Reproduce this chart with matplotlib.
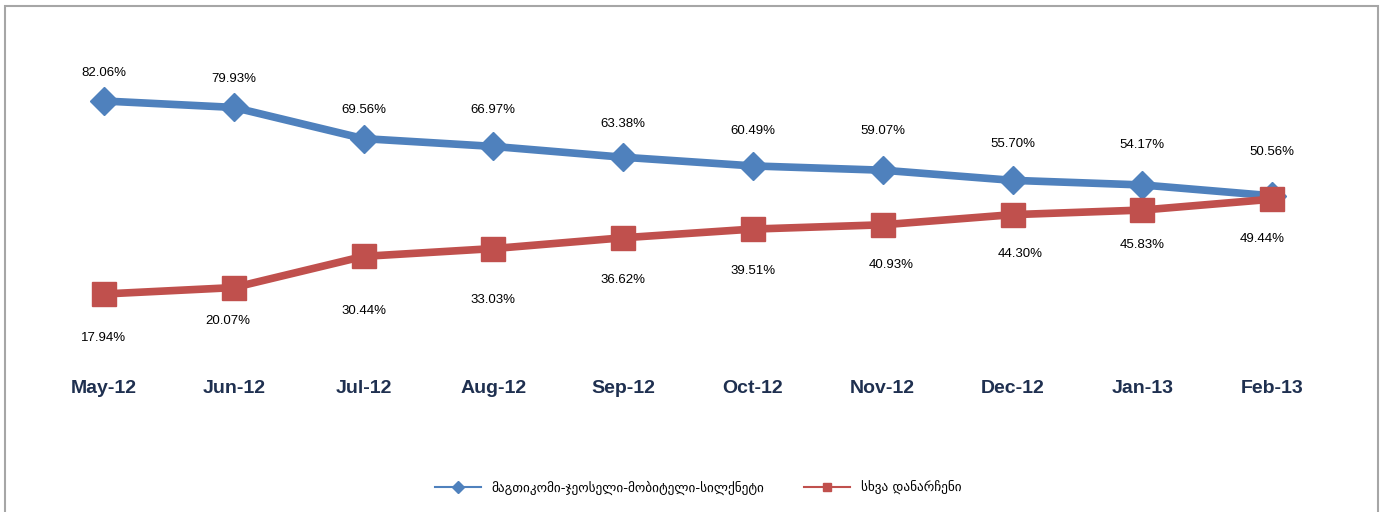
import matplotlib.pyplot as plt
from matplotlib.patches import Rectangle

months = ['May-12', 'Jun-12', 'Jul-12', 'Aug-12', 'Sep-12',
          'Oct-12', 'Nov-12', 'Dec-12', 'Jan-13', 'Feb-13']
big4 = [82.06, 79.93, 69.56, 66.97, 63.38, 60.49, 59.07, 55.70, 54.17, 50.56]
others = [17.94, 20.07, 30.44, 33.03, 36.62, 39.51, 40.93, 44.30, 45.83, 49.44]
big4_name = 'მაგთიკომი-ჯეოსელი-მობიტელი-სილქნეტი'
others_name = 'სხვა დანარჩენი'

# label offsets in pixels (dx, dy) as placed in the original
blue_off = [(0, 28), (0, 28), (0, 29), (0, 36), (0, 33), (0, 35), (0, 39), (0, 36), (0, 40), (0, 44)]
red_off = [(0, -44), (-6, -33), (0, -55), (0, -51), (0, -42), (0, -42), (8, -40), (8, -39), (0, -35), (-10, -40)]

blue = '#4F81BD'
red = '#C0504D'
navy = '#1F3050'

fig = plt.figure(figsize=(13.88, 5.12), dpi=100)
fig.patches.append(Rectangle((5/1388, -0.02), 1373/1388, 1 - 6/512 + 0.02,
                             transform=fig.transFigure, fill=False,
                             edgecolor='#A6A6A6', linewidth=1.5))

ax = fig.add_axes([39/1388, 164/512, 1298/1388, 301/512])
x = list(range(len(months)))
ax.plot(x, big4, color=blue, lw=5.5, marker='D', ms=14, label=big4_name)
ax.plot(x, others, color=red, lw=5.5, marker='s', ms=17, label=others_name)

for i, v in enumerate(big4):
    ax.annotate('%.2f%%' % v, (i, v), xytext=blue_off[i], textcoords='offset pixels',
                ha='center', va='center', fontsize=9.5, family='Liberation Sans',
                color='black')
for i, v in enumerate(others):
    ax.annotate('%.2f%%' % v, (i, v), xytext=red_off[i], textcoords='offset pixels',
                ha='center', va='center', fontsize=9.5, family='Liberation Sans',
                color='black')

ax.set_xlim(-0.5, len(months) - 0.5)
ax.set_ylim(0, 100)
ax.set_xticks(x)
ax.set_xticklabels(months, fontsize=14, fontweight='bold', color=navy,
                   family='Liberation Sans')
ax.tick_params(axis='x', length=0, pad=23)
ax.set_yticks([])
for s in ax.spines.values():
    s.set_visible(False)

leg = fig.legend(loc='center', bbox_to_anchor=(698/1388, 1 - 488/512), ncol=2,
                 frameon=False, handlelength=3.5, columnspacing=3,
                 prop={'family': 'DejaVu Sans', 'size': 9.5})
for h in leg.legend_handles:
    h.set_linewidth(1.5)
    h.set_markersize(6)

fig.savefig('out.png', dpi=100)
